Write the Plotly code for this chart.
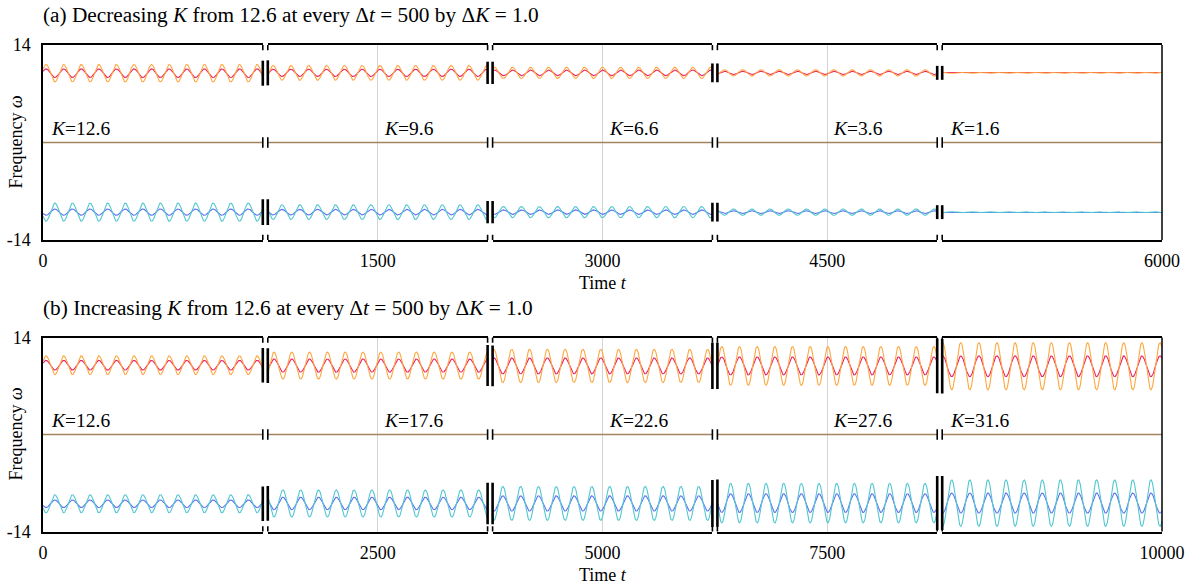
import numpy as np
import plotly.graph_objects as go

W, H = 1189, 586
FONT = "Liberation Serif"

# ---------------- data ----------------
# coupling strength shown in each of the five windows
K_a = [12.6, 9.6, 6.6, 3.6, 1.6]
K_b = [12.6, 17.6, 22.6, 27.6, 31.6]
# tick labels of the time axis (one per window)
ticks_a = [0, 1500, 3000, 4500, 6000]
ticks_b = [0, 2500, 5000, 7500, 10000]
# start time of each 500-long window
start_a = [0, 1250, 2750, 4250, 5500]
start_b = [0, 2250, 4750, 7250, 9500]
WINDOW = 500

# upper cluster: orange (outer) and red (inner); lower cluster: cyan (outer) and blue (inner)
mean_up_a = [9.95, 10.0, 10.0, 10.0, 10.0]
orange_amp_a = [1.25, 1.05, 0.8, 0.45, 0.08]
red_amp_a = [0.62, 0.52, 0.4, 0.23, 0.05]
mean_lo_a = [-10.0, -10.0, -10.0, -10.0, -10.0]
cyan_amp_a = [1.3, 1.05, 0.8, 0.45, 0.08]
blue_amp_a = [0.45, 0.4, 0.32, 0.2, 0.05]
period_a = [40.0, 40.5, 41.0, 41.5, 41.7]
first_peak_a = [7, 12, 4, 16, 0]

mean_up_b = [10.0, 9.95, 9.9, 9.9, 9.85]
orange_amp_b = [1.35, 1.95, 2.4, 2.8, 3.4]
red_amp_b = [0.7, 0.95, 1.15, 1.3, 1.5]
mean_lo_b = [-10.0, -9.95, -9.95, -9.9, -9.9]
cyan_amp_b = [1.3, 1.95, 2.45, 2.85, 3.35]
blue_amp_b = [0.55, 0.9, 1.1, 1.35, 1.45]
period_b = [40.0, 40.5, 40.5, 40.2, 41.2]
first_peak_b = [7, 14, 3, 10, 1]

Y_MIN, Y_MAX = -14, 14

C_ORANGE = "#FFA73F"
C_RED = "#E8236A"
C_CYAN = "#52C7D2"
C_BLUE = "#5E72EE"
C_BROWN = "#A4845F"

# ---------------- layout geometry (pixels) ----------------
PLOT_L, PLOT_R = 43, 1162
GAP = 5
SEG_W = (PLOT_R - PLOT_L - 4 * GAP) / 5
PANEL_TOP = [45, 337.5]
PANEL_BOT = [240, 531.5]


def px_x(p):
    return p / W


def px_y(p):
    return 1 - p / H


panels = [
    dict(K=K_a, ticks=ticks_a, start=start_a, mu=mean_up_a, oa=orange_amp_a, ra=red_amp_a,
         ml=mean_lo_a, ca=cyan_amp_a, ba=blue_amp_a, per=period_a, pk=first_peak_a,
         title="(a) Decreasing <i>K</i> from 12.6 at every Δ<i>t</i> = 500 by Δ<i>K</i> = 1.0"),
    dict(K=K_b, ticks=ticks_b, start=start_b, mu=mean_up_b, oa=orange_amp_b, ra=red_amp_b,
         ml=mean_lo_b, ca=cyan_amp_b, ba=blue_amp_b, per=period_b, pk=first_peak_b,
         title="(b) Increasing <i>K</i> from 12.6 at every Δ<i>t</i> = 500 by Δ<i>K</i> = 1.0"),
]

fig = go.Figure()
layout = {}
shapes = []
annotations = []

axis_font = dict(family=FONT, size=18, color="black")
label_font = dict(family=FONT, size=19.5, color="black")
title_font = dict(family=FONT, size=21.3, color="black")

for p, P in enumerate(panels):
    ykey = "y" if p == 0 else "y2"
    ylayout = "yaxis" if p == 0 else "yaxis2"
    first_x = 1 + 5 * p
    layout[ylayout] = dict(
        domain=[px_y(PANEL_BOT[p]), px_y(PANEL_TOP[p])],
        range=[Y_MIN, Y_MAX], tickvals=[Y_MIN, Y_MAX], ticktext=[str(Y_MIN), str(Y_MAX)],
        showline=True, linecolor="black", linewidth=1.5, showgrid=False, zeroline=False,
        ticks="", ticklabelstandoff=7, tickfont=axis_font, automargin=False,
        anchor="x" if first_x == 1 else f"x{first_x}",
    )

    for s in range(5):
        n = first_x + s
        xkey = "x" if n == 1 else f"x{n}"
        xlayout = "xaxis" if n == 1 else f"xaxis{n}"
        x0 = PLOT_L + s * (SEG_W + GAP)
        t0 = P["start"][s]
        layout[xlayout] = dict(
            domain=[px_x(x0), px_x(x0 + SEG_W)],
            range=[t0, t0 + WINDOW], tickvals=[P["ticks"][s]], ticktext=[str(P["ticks"][s])],
            showline=True, mirror=True, linecolor="black", linewidth=1.5,
            showgrid=(0 < s < 4), gridcolor="#d4d4d4", gridwidth=1, zeroline=False,
            ticks="", ticklabelstandoff=4, tickfont=axis_font, anchor=ykey, automargin=False,
        )

        t = np.linspace(t0, t0 + WINDOW, 1200)
        phase = 2 * np.pi * (t - t0 - P["pk"][s]) / P["per"][s]
        wave = np.cos(phase)
        # inner curves first, outer curves on top, zero-frequency group last
        series = [
            (P["mu"][s] + P["ra"][s] * wave, C_RED, 1.1),
            (P["mu"][s] + P["oa"][s] * wave, C_ORANGE, 1.1),
            (P["ml"][s] - P["ba"][s] * wave, C_BLUE, 1.1),
            (P["ml"][s] - P["ca"][s] * wave, C_CYAN, 1.1),
            (np.zeros_like(t), C_BROWN, 1.5),
        ]
        for yv, col, lw in series:
            fig.add_trace(go.Scatter(x=t, y=yv, mode="lines", xaxis=xkey, yaxis=ykey,
                                     line=dict(color=col, width=lw), hoverinfo="skip",
                                     showlegend=False))

        # K label of this window
        if s in (0, 4):
            ann_x, ann_xref, shift = 0, f"{xkey} domain", 6
        else:
            ann_x, ann_xref, shift = P["ticks"][s], xkey, 4
        annotations.append(dict(text=f"<i>K</i>={P['K'][s]}", x=ann_x, xref=ann_xref, xshift=shift,
                                y=0, yref=ykey, yshift=14, xanchor="left", yanchor="middle",
                                showarrow=False, font=label_font))

    # right frame edge
    last = first_x + 4
    shapes.append(dict(type="line", xref=f"x{last} domain", x0=1, x1=1,
                       yref=f"{ykey} domain", y0=0, y1=1,
                       line=dict(color="black", width=1.5)))

    # axis-break marks
    for j in range(4):
        for s, side in ((j, 1), (j + 1, 0)):
            n = first_x + s
            xref = ("x" if n == 1 else f"x{n}") + " domain"
            for yv in (Y_MIN, 0, Y_MAX):
                shapes.append(dict(type="line", xref=xref, x0=side, x1=side, yref=ykey,
                                   y0=yv - 0.75, y1=yv + 0.75,
                                   line=dict(color="black", width=1.6)))
            up_half = max(P["oa"][j], P["oa"][j + 1]) + 0.55
            lo_half = max(P["ca"][j], P["ca"][j + 1]) + 0.55
            up_c = P["mu"][s]
            lo_c = P["ml"][s]
            for c, h in ((up_c, up_half), (lo_c, lo_half)):
                shapes.append(dict(type="line", xref=xref, x0=side, x1=side, yref=ykey,
                                   y0=c - h, y1=c + h, line=dict(color="black", width=2.6)))

    # panel title
    annotations.append(dict(text=P["title"], x=px_x(41), y=px_y(PANEL_TOP[p] - 30),
                            xref="paper", yref="paper", xanchor="left", yanchor="middle",
                            showarrow=False, font=title_font))
    # axis titles
    annotations.append(dict(text="Time <i>t</i>", x=0.5, xref=f"x{first_x + 2} domain",
                            y=px_y(PANEL_BOT[p] + 43), yref="paper", xanchor="center",
                            yanchor="middle", showarrow=False, font=axis_font))
    annotations.append(dict(text="Frequency <i>ω</i>", textangle=-90, x=px_x(15), xref="paper",
                            y=px_y((PANEL_TOP[p] + PANEL_BOT[p]) / 2), yref="paper",
                            xanchor="center", yanchor="middle", showarrow=False,
                            font=dict(family=FONT, size=18, color="black")))

fig.update_layout(
    width=W, height=H, margin=dict(l=0, r=0, t=0, b=0, pad=0),
    paper_bgcolor="white", plot_bgcolor="white",
    showlegend=False, shapes=shapes, annotations=annotations,
    **layout,
)

fig.write_html("out.html")
